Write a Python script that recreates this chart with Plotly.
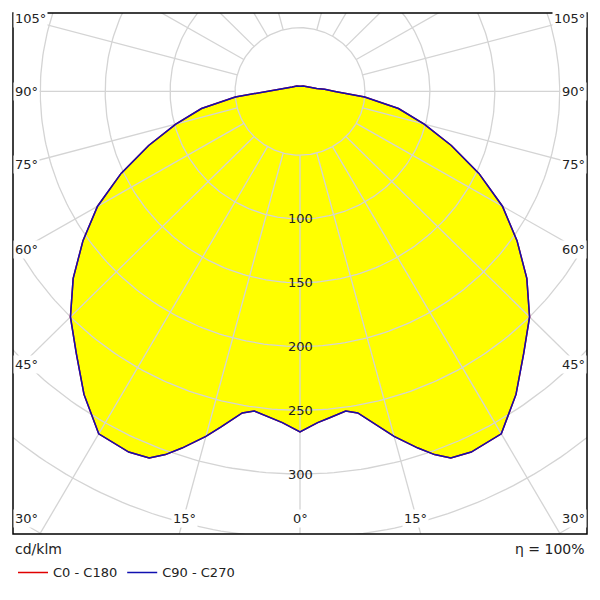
import numpy as np
import plotly.graph_objects as go

# luminous intensity (cd/klm) vs gamma angle, symmetric curve
angles = [0, 3, 5, 8, 10, 13, 15, 18, 20, 22, 25, 30, 35, 40, 45, 50, 55, 60,
          65, 70, 75, 80, 85, 90, 95, 100, 110, 120, 150, 180]
intensity = [267, 260, 257, 253, 256, 270, 280, 294, 303, 310, 312, 310, 290,
             268, 250, 228, 204, 180, 152, 124, 99, 77, 50, 27, 19, 13, 9, 7, 5, 4]

grid_radii = [50, 100, 150, 200, 250, 300, 350, 400, 450]
ring_labels = [100, 150, 200, 250, 300]
spoke_angles = list(range(15, 180, 15))
side_labels = [105, 90, 75, 60, 45]
bottom_labels = [30, 15, 0, 15, 30]

GRID = "#d4d4d4"


def to_xy(theta_deg, r):
    t = np.radians(theta_deg)
    return np.asarray(r) * np.sin(t), -np.asarray(r) * np.cos(t)


fig = go.Figure()

full_a = [-a for a in angles[::-1]] + angles[1:]
full_r = intensity[::-1] + intensity[1:]
cx, cy = to_xy(np.array(full_a), np.array(full_r))

# yellow fill first, grid on top, then outline
fig.add_trace(go.Scatter(x=cx, y=cy, mode="lines", fill="toself", fillcolor="#ffff00",
                         line=dict(width=0), hoverinfo="skip", showlegend=False))

phi = np.linspace(0, 360, 361)
for R in grid_radii:
    x, y = to_xy(phi, R)
    fig.add_trace(go.Scatter(x=x, y=y, mode="lines", line=dict(color=GRID, width=1.3),
                             hoverinfo="skip", showlegend=False))
for a in [0] + spoke_angles + [-s for s in spoke_angles]:
    x, y = to_xy(a, np.array([50, 600]))
    fig.add_trace(go.Scatter(x=x, y=y, mode="lines", line=dict(color=GRID, width=1.3),
                             hoverinfo="skip", showlegend=False))

fig.add_trace(go.Scatter(x=cx, y=cy, mode="lines",
                         line=dict(color="#e00000", width=1.5), name="C0 - C180"))
fig.add_trace(go.Scatter(x=cx, y=cy, mode="lines",
                         line=dict(color="#1010b0", width=1.5), name="C90 - C270"))

annotations = []
for v in ring_labels:
    annotations.append(dict(x=0, y=-v, text=str(v), showarrow=False, bgcolor="rgba(0,0,0,0)",
                            font=dict(size=13, color="#222")))

# angle labels at frame edges
for lab in side_labels:
    yv = -214 / np.tan(np.radians(lab))
    for sx, anc in [(-1, "left"), (1, "right")]:
        annotations.append(dict(x=sx * 221, y=yv, text=f"{lab}°", showarrow=False, xanchor=anc,
                                bgcolor="white", font=dict(size=13)))
for lab, sgn in zip(bottom_labels, [-1, -1, 1, 1, 1]):
    xv = sgn * 333 * np.tan(np.radians(lab))
    anc = "center"
    if abs(xv) > 190:
        xv = sgn * 221
        anc = "left" if sgn < 0 else "right"
    annotations.append(dict(x=xv, y=-335, text=f"{lab}°", showarrow=False, xanchor=anc,
                            bgcolor="white", font=dict(size=13)))
annotations.append(dict(xref="paper", yref="paper", x=0.0, y=-0.01, yanchor="top", xanchor="left",
                        text="cd/klm", showarrow=False, font=dict(size=14)))
annotations.append(dict(xref="paper", yref="paper", x=1.0, y=-0.01, yanchor="top", xanchor="right",
                        text="η = 100%", showarrow=False, font=dict(size=14)))

fig.update_layout(
    plot_bgcolor="white", paper_bgcolor="white",
    margin=dict(l=5, r=5, t=5, b=48),
    xaxis=dict(range=[-221, 221], visible=False, showgrid=False),
    yaxis=dict(range=[-347, 61.5], visible=False, showgrid=False),
    showlegend=True,
    legend=dict(orientation="h", x=0.0, y=-0.045, xanchor="left", yanchor="top",
                font=dict(size=13, family="DejaVu Sans"), bgcolor="rgba(0,0,0,0)"),
    font=dict(family="DejaVu Sans", size=13, color="#222"),
    shapes=[dict(type="rect", xref="paper", yref="paper", x0=0, y0=0, x1=1, y1=1,
                 line=dict(color="black", width=1.5))],
    annotations=annotations,
)

fig.write_html("out.html", default_width="100%", default_height="100%")
